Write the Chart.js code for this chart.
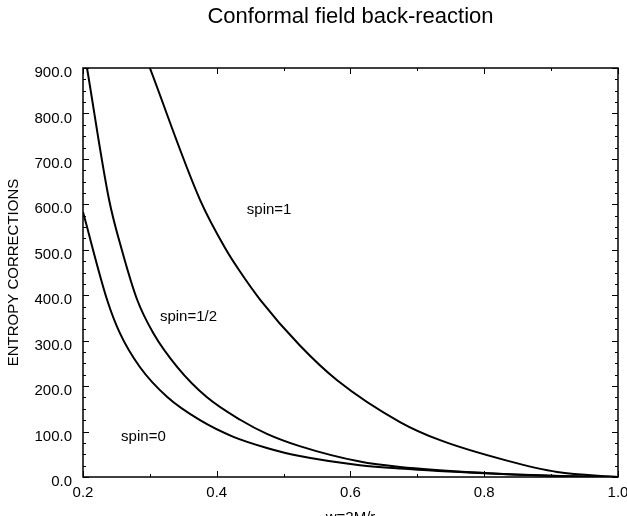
<!DOCTYPE html>
<html>
<head>
<meta charset="utf-8">
<script src="https://cdn.jsdelivr.net/npm/chart.js@4"></script>
<style>
html,body{margin:0;padding:0;background:#fff;}
#wrap{width:627px;height:516px;}
</style>
</head>
<body>
<div id="wrap"><canvas id="c" width="627" height="516"></canvas></div>
<script>
const chartTitle = "Conformal field back-reaction";
const xTitle = "w=2M/r";
const yTitle = "ENTROPY CORRECTIONS";

const spin0X = [0.2, 0.236, 0.255, 0.285, 0.326, 0.375, 0.424, 0.475, 0.524, 0.614, 0.674, 0.8, 0.9, 1.0];
const spin0Y = [583, 390, 317, 242, 176, 125, 89, 64, 46, 26, 18.5, 8, 2.5, 0];

const spinHalfX = [0.206, 0.239, 0.258, 0.281, 0.305, 0.341, 0.385, 0.435, 0.475, 0.524, 0.614, 0.674, 0.8, 0.9, 1.0];
const spinHalfY = [900, 610, 500, 390, 317, 242, 176, 126, 95, 68, 34, 22, 9, 3, 0];

const spin1X = [0.3, 0.375, 0.414, 0.433, 0.465, 0.524, 0.58, 0.674, 0.734, 0.834, 0.909, 1.0];
const spin1Y = [900, 610, 500, 456, 390, 290, 213, 121, 81, 36, 11, 0];

const seriesNames = ["spin=0", "spin=1/2", "spin=1"];
// label anchor (data coords, left-middle of text)
const labelX = [0.257, 0.315, 0.445];
const labelY = [88, 352, 588];

const yTickValues = [0, 100, 200, 300, 400, 500, 600, 700, 800, 900];
const xTickValues = [0.2, 0.4, 0.6, 0.8, 1.0];

function pts(xs, ys){ return xs.map((x,i)=>({x:x, y:ys[i]})); }

const FONT = "'Liberation Sans', Arial, Helvetica, sans-serif";

const boxPlugin = {
  id: 'box',
  afterDatasetsDraw(chart){
    const {ctx, chartArea:a, scales} = chart;
    const xs = scales.x, ys = scales.y;
    ctx.save();
    ctx.strokeStyle = '#000';
    ctx.lineWidth = 1.5;
    ctx.strokeRect(a.left, a.top, a.right - a.left, a.bottom - a.top);
    ctx.lineWidth = 1;
    ctx.beginPath();
    for (let v = 0; v <= 900; v += 25) {
      const p = Math.round(ys.getPixelForValue(v)) + 0.5;
      const len = (v % 100 === 0) ? 6 : 3;
      ctx.moveTo(a.left, p); ctx.lineTo(a.left + len, p);
      ctx.moveTo(a.right, p); ctx.lineTo(a.right - len, p);
    }
    for (let k = 2; k <= 10; k++) {
      const v = k / 10;
      const p = Math.round(xs.getPixelForValue(v)) + 0.5;
      const len = (k % 2 === 0) ? 6 : 3;
      ctx.moveTo(p, a.bottom); ctx.lineTo(p, a.bottom - len);
      ctx.moveTo(p, a.top); ctx.lineTo(p, a.top + len);
    }
    ctx.stroke();
    ctx.fillStyle = '#000';
    // series labels
    ctx.font = "15px " + FONT;
    ctx.textBaseline = 'middle';
    ctx.textAlign = 'left';
    for (let i = 0; i < seriesNames.length; i++) {
      ctx.fillText(seriesNames[i], xs.getPixelForValue(labelX[i]), ys.getPixelForValue(labelY[i]));
    }
    // chart title, centred over the plot area
    ctx.font = "22px " + FONT;
    ctx.textAlign = 'center';
    ctx.textBaseline = 'alphabetic';
    ctx.fillText(chartTitle, (a.left + a.right) / 2, 23);
    ctx.restore();
  }
};

const common = {borderColor:'#000', borderWidth:2, pointRadius:0, showLine:true, fill:false, cubicInterpolationMode:'monotone'};

new Chart(document.getElementById('c'), {
  type: 'scatter',
  data: {
    datasets: [
      Object.assign({label: seriesNames[0], data: pts(spin0X, spin0Y)}, common),
      Object.assign({label: seriesNames[1], data: pts(spinHalfX, spinHalfY)}, common),
      Object.assign({label: seriesNames[2], data: pts(spin1X, spin1Y)}, common)
    ]
  },
  options: {
    responsive: false,
    animation: false,
    devicePixelRatio: 1,
    layout: {padding: {left: 0, right: 9, top: 68, bottom: 0}, autoPadding: false},
    plugins: {
      legend: {display: false},
      tooltip: {enabled: false},
      title: {display: false}
    },
    scales: {
      x: {
        type: 'linear', min: 0.2, max: 1.0,
        afterBuildTicks(s){ s.ticks = xTickValues.map(v => ({value: v})); },
        afterFit(s){ s.height = 39; s.paddingLeft = 0; s.paddingRight = 0; },
        grid: {display: false, drawTicks: false},
        border: {display: false},
        ticks: {
          color: '#000', font: {family: FONT, size: 15}, padding: 7, maxRotation: 0,
          callback: v => Number(v).toFixed(1)
        },
        title: {display: true, text: xTitle, color: '#000', font: {family: FONT, size: 15}, padding: {top: 0, bottom: -11}}
      },
      y: {
        type: 'linear', min: 0, max: 900,
        afterBuildTicks(s){ s.ticks = yTickValues.map(v => ({value: v})); },
        afterFit(s){ s.width = 83; s.paddingTop = 0; s.paddingBottom = 0; },
        grid: {display: false, drawTicks: false},
        border: {display: false},
        ticks: {
          color: '#000', font: {family: FONT, size: 15}, padding: 11, labelOffset: 5,
          callback: v => Number(v).toFixed(1)
        },
        title: {display: true, text: yTitle, color: '#000', font: {family: FONT, size: 15}, padding: {top: 5, bottom: 0}}
      }
    }
  },
  plugins: [boxPlugin]
});
</script>
</body>
</html>
